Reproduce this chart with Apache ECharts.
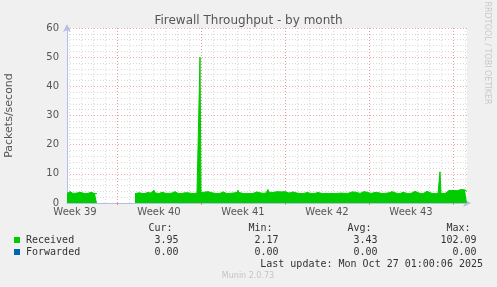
<!DOCTYPE html>
<html><head><meta charset="utf-8">
<script src="https://cdn.jsdelivr.net/npm/echarts@6/dist/echarts.min.js"></script>
<style>html,body{margin:0;padding:0;background:#f0f0f0}#c{width:497px;height:287px}</style>
</head><body><div id="c"></div><script>
// ---- data ----
const titleText = 'Firewall Throughput - by month';
const yAxisName = 'Packets/second';
const weekLabels = ['Week 39', 'Week 40', 'Week 41', 'Week 42', 'Week 43'];
const yMin = 0, yMax = 60, yStep = 10;
const slotCount = 400;        // 2-hour slots across the plot
const slotOffset = 34;        // slots from Monday of Week 39 to the left edge
const slotsPerDay = 12, slotsPerWeek = 84;

const sampleSlot = [
  0,2,3,4,6,8,10,12,13,15,18,21,23,24,26,28,30,31,
  68,70,72,73,74,77,79,81,82,84,86,87,88,90,92,94,95,96,99,102,104,105,107,108,109,111,114,116,118,120,121,123,126,128,130,132,133,134,135,137,139,141,143,145,147,150,153,155,156,157,160,163,166,168,170,171,172,174,177,180,183,186,188,190,191,193,196,199,200,201,202,204,206,208,210,212,214,216,218,220,222,224,226,228,230,232,234,237,239,240,242,245,248,250,251,253,256,259,262,265,268,271,274,276,278,281,283,285,287,289,291,293,295,297,298,300,302,304,306,308,310,312,315,318,320,322,324,325,327,330,333,335,336,338,341,344,346,348,350,353,356,358,360,362,365,368,371,372,373,374,376,378,380,382,384,386,388,390,392,394,396,398,400
];
const receivedValues = [
  3.3,3.5,3.9,3.4,3.3,3.2,3.4,3.7,3.7,3.3,3.2,3.3,3.6,3.7,3.4,3.2,3.2,null,
  3.2,3.3,3.5,4.0,3.4,3.2,3.3,3.6,3.5,3.4,3.7,4.4,3.5,3.3,3.2,3.4,3.7,3.4,3.3,3.3,3.5,3.4,3.5,3.9,3.5,3.3,3.2,3.3,3.5,3.9,3.5,3.3,3.2,3.3,3.4,3.6,50,3.6,3.4,3.7,3.9,3.9,3.8,3.5,3.3,3.2,3.3,3.5,3.8,3.4,3.2,3.3,3.4,3.5,3.6,4.4,3.6,3.4,3.2,3.3,3.2,3.3,3.5,3.8,3.9,3.5,3.3,3.4,3.6,4.6,3.7,3.5,3.6,3.8,3.9,3.6,3.8,4.3,3.9,3.6,3.4,3.5,3.8,3.5,3.4,3.3,3.2,3.3,3.5,3.6,3.3,3.2,3.3,3.5,3.6,3.3,3.2,3.3,3.2,3.3,3.2,3.3,3.4,3.6,3.3,3.3,3.5,3.8,4.0,3.7,3.4,3.3,3.6,3.9,4.1,3.7,3.4,3.3,3.4,3.6,3.8,3.5,3.2,3.3,3.3,3.5,3.8,3.9,3.5,3.3,3.2,3.5,3.7,3.4,3.2,3.3,3.6,4.0,3.6,3.3,3.2,3.5,4.0,3.5,3.3,3.2,3.3,3.4,10.7,3.3,3.1,3.2,3.6,4.3,4.5,4.3,4.1,4.2,4.4,4.6,4.7,4.5,3.95
];
const forwardedSlot = [0, 400];
const forwardedValues = [0, 0];

const statHeaders = ['Cur:', 'Min:', 'Avg:', 'Max:'];
const receivedStats = ['3.95', '2.17', '3.43', '102.09'];
const forwardedStats = ['0.00', '0.00', '0.00', '0.00'];
const seriesNames = ['Received', 'Forwarded'];
const seriesColors = ['#00cc00', '#0066b3'];
const lastUpdate = 'Last update: Mon Oct 27 01:00:06 2025';
const footerText = 'Munin 2.0.73';
const sideText = 'RRDTOOL / TOBI OETIKER';

// ---- build ----
const slotCats = [];
for (let i = 0; i <= slotCount; i++) {
  const s = i + slotOffset;
  slotCats.push(s % slotsPerWeek === slotsPerWeek / 2 ? weekLabels[Math.floor(s / slotsPerWeek)] || '' : '');
}
const recData = sampleSlot.map((s, k) => [s, receivedValues[k]]);
const fwdData = forwardedSlot.map((s, k) => [s, forwardedValues[k]]);

const mono = '10px "DejaVu Sans Mono"';
const textColor = '#333';
const statHeadRight = [172.5, 272.5, 371.5, 470.5];
const statValRight = [178.5, 278.5, 377.5, 476.5];
const graphics = [
  {type:'text', x:487, y:53, rotation:-Math.PI/2, style:{text:sideText, fill:'#c8c8c8', font:'8px "DejaVu Sans"', align:'center', verticalAlign:'middle'}},
  {type:'rect', shape:{x:14, y:237, width:6, height:6}, style:{fill:seriesColors[0]}},
  {type:'rect', shape:{x:14, y:249, width:6, height:6}, style:{fill:seriesColors[1]}},
  {type:'text', x:26, y:240, style:{text:seriesNames[0], fill:textColor, font:mono, align:'left', verticalAlign:'middle'}},
  {type:'text', x:26, y:252, style:{text:seriesNames[1], fill:textColor, font:mono, align:'left', verticalAlign:'middle'}},
  {type:'text', x:483, y:264, style:{text:lastUpdate, fill:textColor, font:mono, align:'right', verticalAlign:'middle'}},
  {type:'text', x:248, y:276, style:{text:footerText, fill:'#c4c4c4', font:'8px "DejaVu Sans"', align:'center', verticalAlign:'middle'}}
];
statHeaders.forEach((h, k) => {
  graphics.push({type:'text', x:statHeadRight[k], y:228.5, style:{text:h, fill:textColor, font:mono, align:'right', verticalAlign:'middle'}});
  graphics.push({type:'text', x:statValRight[k], y:240, style:{text:receivedStats[k], fill:textColor, font:mono, align:'right', verticalAlign:'middle'}});
  graphics.push({type:'text', x:statValRight[k], y:252, style:{text:forwardedStats[k], fill:textColor, font:mono, align:'right', verticalAlign:'middle'}});
});

const axisBlue = '#b4bce8';
const minorGrid = {show:true, lineStyle:{color:'rgba(150,150,150,0.35)', type:[1,2], width:1}};
const majorGrid = {show:true, lineStyle:{color:'rgba(235,110,110,0.6)', type:[1,2], width:1}};

const chart = echarts.init(document.getElementById('c'), null, {renderer:'canvas'});
chart.setOption({
  backgroundColor:'#f0f0f0',
  animation:false,
  title:{text:titleText, left:'center', top:10, textStyle:{fontFamily:'DejaVu Sans', fontSize:12, fontWeight:'normal', color:'#555'}},
  grid:{left:67, top:28, right:30, bottom:84, outerBoundsMode:'none', containLabel:false, show:true, backgroundColor:'#ffffff', borderWidth:0},
  xAxis:[
    {type:'value', position:'bottom', min:0, max:slotCount, show:true, axisLabel:{show:false}, axisTick:{show:false}, splitLine:{show:false},
     axisLine:{show:true, onZero:false, lineStyle:{color:axisBlue, width:1}, symbol:['none','arrow'], symbolSize:[6,8], symbolOffset:[0,4]}},
    {type:'category', position:'bottom', data:slotCats, boundaryGap:false, axisLine:{show:false}, axisTick:{show:false}, axisLabel:{show:false},
     splitLine:Object.assign({interval:(i) => (i + slotOffset) % slotsPerDay === 0}, minorGrid)},
    {type:'category', position:'bottom', data:slotCats, boundaryGap:false, axisLine:{show:false},
     axisTick:{show:true, length:2, inside:false, interval:(i) => (i + slotOffset) % slotsPerWeek === 0, lineStyle:{color:'rgba(235,110,110,0.8)'}},
     axisLabel:{show:true, interval:(i) => (i + slotOffset) % slotsPerWeek === slotsPerWeek / 2, margin:4, fontFamily:'DejaVu Sans', fontSize:10, color:'#555'},
     splitLine:Object.assign({interval:(i) => (i + slotOffset) % slotsPerWeek === 0}, majorGrid)}
  ],
  yAxis:{type:'value', min:yMin, max:yMax, interval:yStep,
    name:yAxisName, nameLocation:'middle', nameRotate:90, nameGap:52,
    nameTextStyle:{fontFamily:'DejaVu Sans', fontSize:11, color:'#555'},
    axisLine:{show:true, lineStyle:{color:axisBlue, width:1}, symbol:['none','arrow'], symbolSize:[6,8], symbolOffset:[0,4]},
    axisTick:{show:false},
    axisLabel:{margin:8, fontFamily:'DejaVu Sans', fontSize:10, color:'#555'},
    splitLine:majorGrid,
    minorTick:{show:false, splitNumber:5},
    minorSplitLine:minorGrid
  },
  series:[
    {name:seriesNames[0], type:'line', xAxisIndex:0, data:recData, symbol:'none', connectNulls:false,
     lineStyle:{color:seriesColors[0], width:1}, areaStyle:{color:seriesColors[0], opacity:1}, z:3},
    {name:seriesNames[1], type:'line', xAxisIndex:0, data:fwdData, symbol:'none',
     lineStyle:{color:seriesColors[1], width:1, opacity:0}, z:3}
  ],
  graphic:graphics
});
</script></body></html>
